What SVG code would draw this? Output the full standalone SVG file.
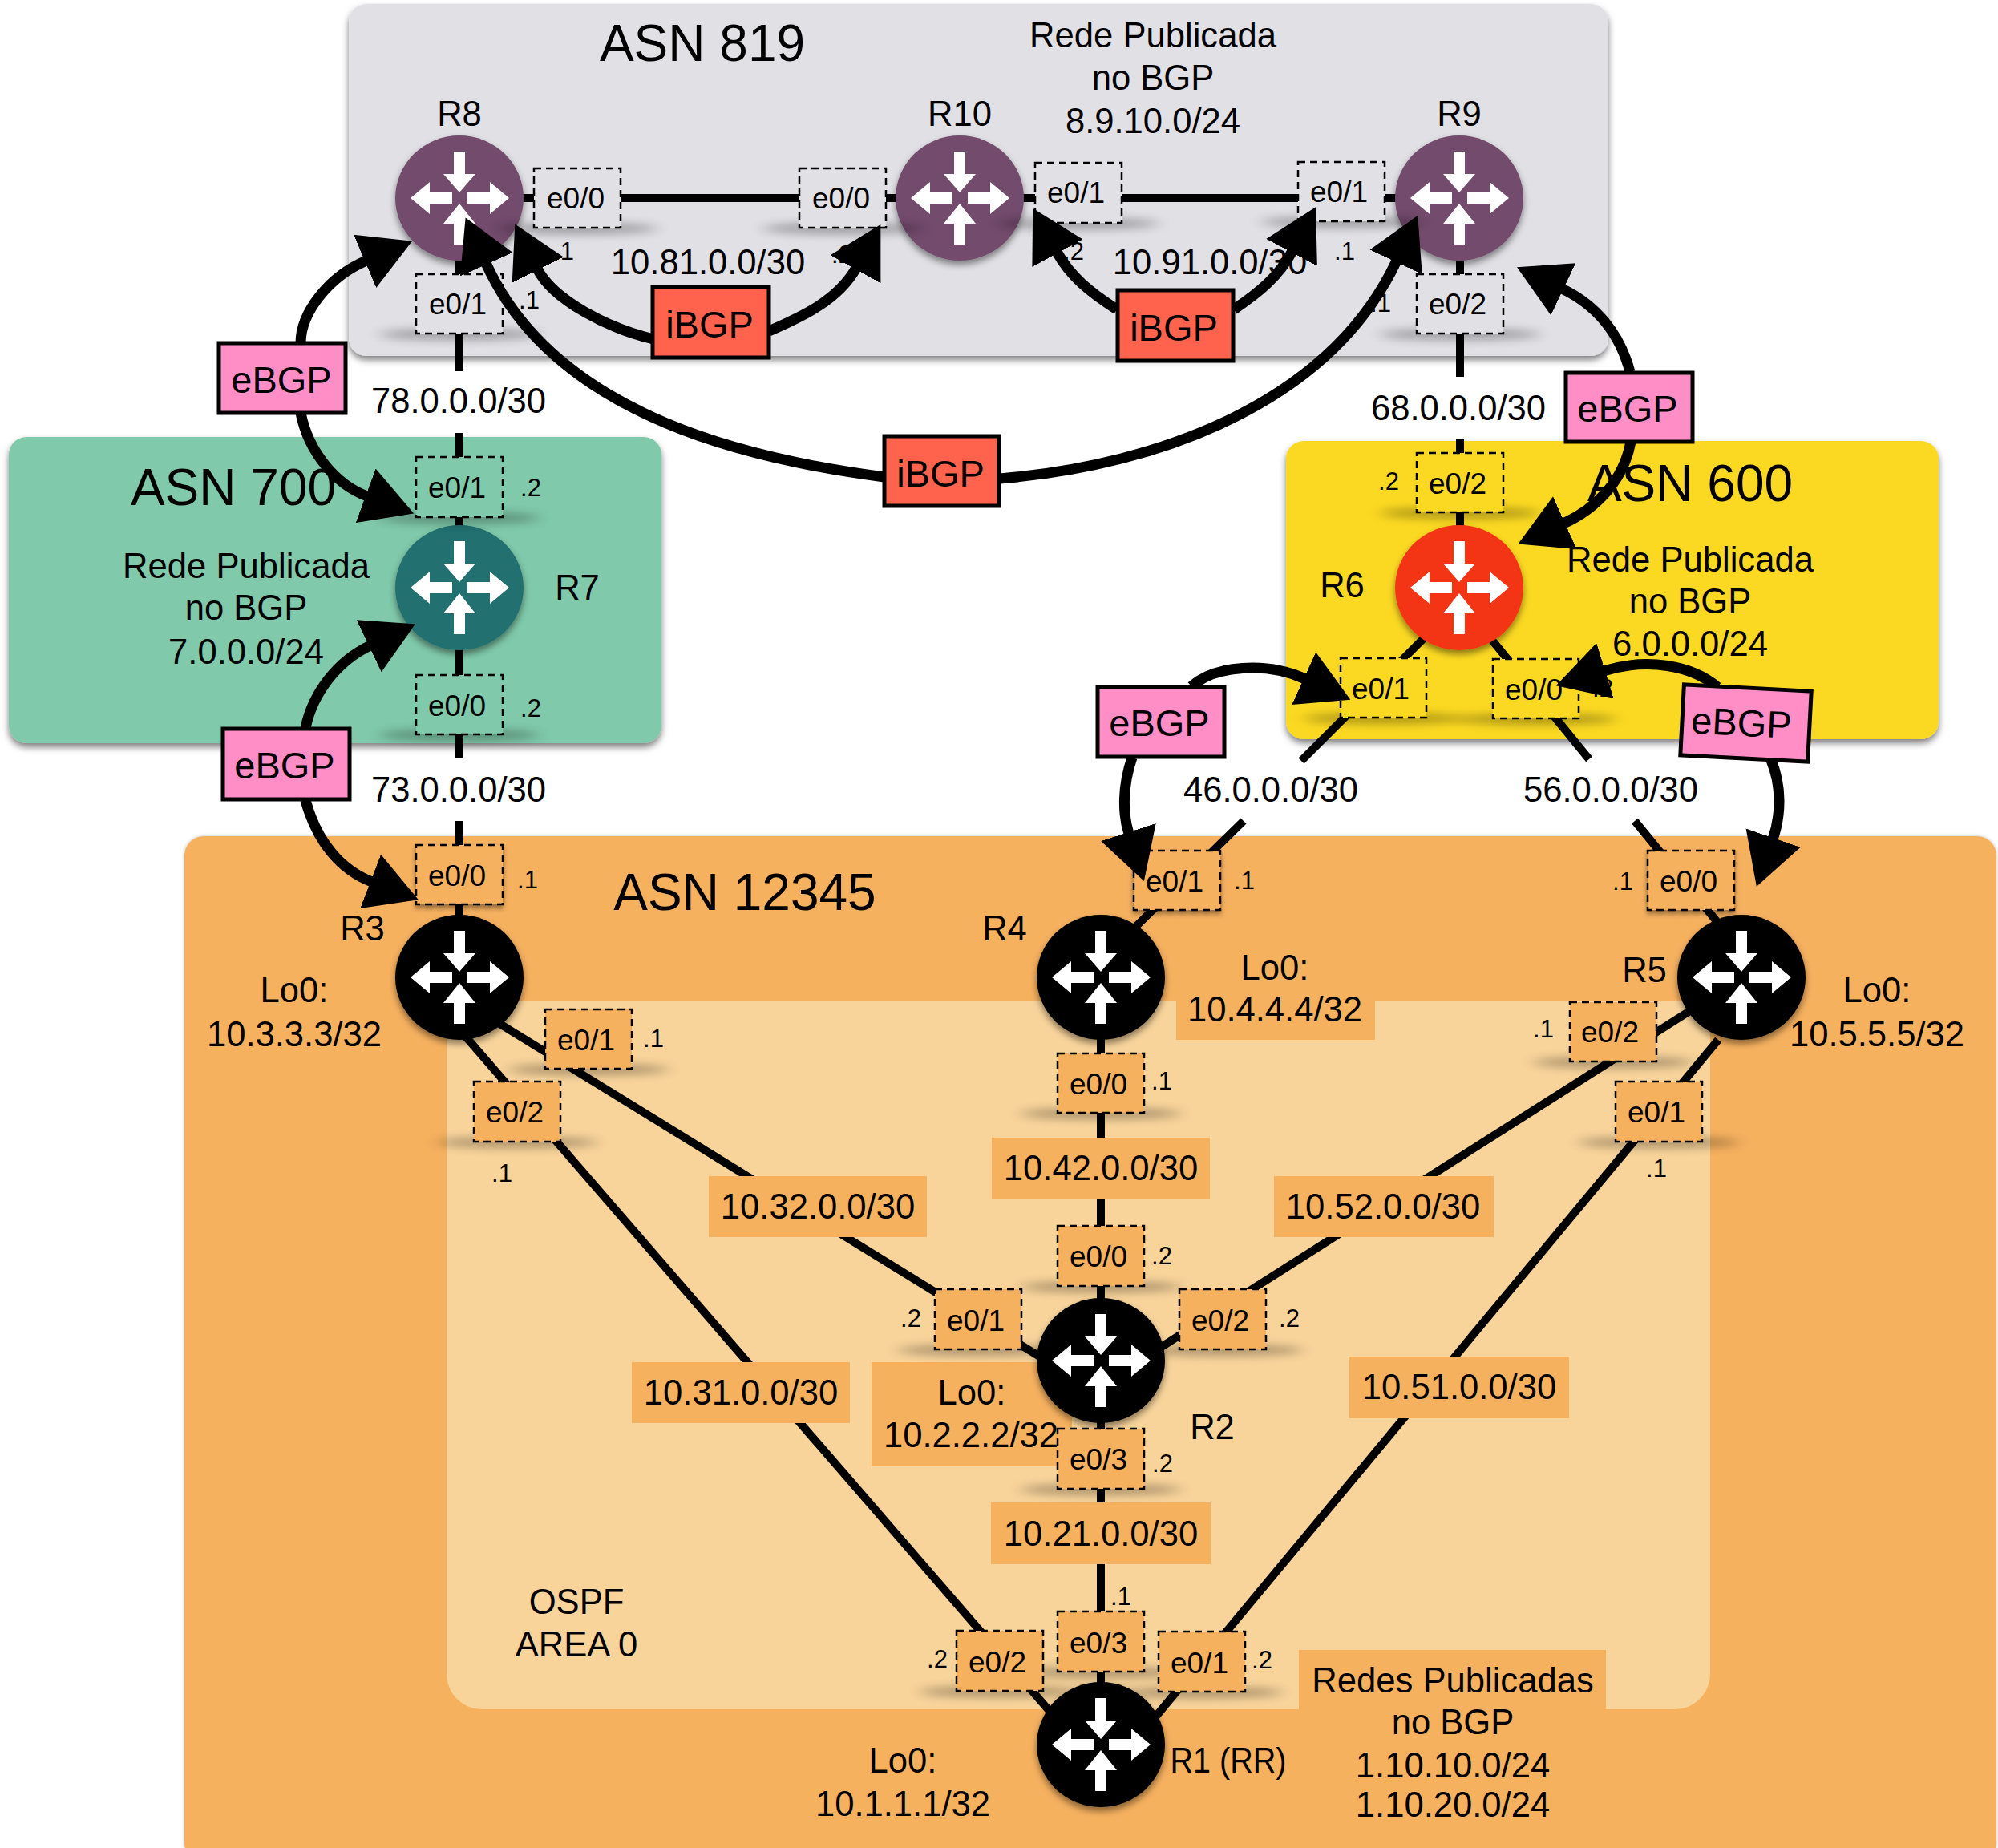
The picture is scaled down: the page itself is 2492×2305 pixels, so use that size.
<svg xmlns="http://www.w3.org/2000/svg" width="2492" height="2305" viewBox="0 0 2492 2305">
<style>
text{font-family:"Liberation Sans",Arial,sans-serif;fill:#000;text-anchor:middle;font-size:43.6px}
.t{font-size:64px}
.p{font-size:37px}
.d{font-size:31px}
.b{font-size:47px}
.port{stroke:#000;stroke-width:2.5;stroke-dasharray:9 6}
.g{fill:#e1e0e5}.a7{fill:#80c9aa}.y{fill:#fbd923}.o{fill:#f6b15f}.w{fill:#f8d49b}
.ln{stroke:#000;stroke-width:10;fill:none}
.arc{stroke:#000;stroke-width:13;fill:none;marker-end:url(#ah)}
.ib{fill:#ff634d;stroke:#000;stroke-width:5}
.eb{fill:#ff8ec7;stroke:#000;stroke-width:5}
.sh{fill:#000;opacity:.3;filter:url(#blur)}
.r{filter:url(#rs)}
</style>
<defs>
<filter id="ps" x="-5%" y="-5%" width="110%" height="112%"><feDropShadow dx="0" dy="5" stdDeviation="4" flood-color="#000" flood-opacity=".5"/></filter>
<filter id="ps2" x="-5%" y="-5%" width="110%" height="110%"><feDropShadow dx="0" dy="0" stdDeviation="2" flood-color="#000" flood-opacity=".25"/></filter>
<filter id="rs" x="-20%" y="-20%" width="140%" height="140%"><feDropShadow dx="0" dy="5" stdDeviation="4" flood-color="#000" flood-opacity=".45"/></filter>
<filter id="bs" x="-20%" y="-20%" width="140%" height="140%"><feDropShadow dx="0" dy="4" stdDeviation="3" flood-color="#000" flood-opacity=".4"/></filter>
<filter id="blur" x="-40%" y="-300%" width="180%" height="700%"><feGaussianBlur stdDeviation="10 6"/></filter>
<marker id="ah" markerUnits="userSpaceOnUse" markerWidth="66" markerHeight="74" refX="2" refY="37" orient="auto"><path d="M0,1 L64,37 L0,73 Z" fill="#000"/></marker>
<g id="glyph" fill="#fff">
<path d="M-7,-58 H7 V-30 H20 L0,-7 L-20,-30 H-7 Z"/>
<path d="M-7,58 H7 V32 H20 L0,7 L-20,32 H-7 Z"/>
<path d="M-9,-7 V7 H-37 V20 L-61,0 L-37,-20 V-7 Z"/>
<path d="M10,-7 V7 H38 V20 L62,0 L38,-20 V-7 Z"/>
</g>
</defs>

<g id="panels">
<rect id="asn12345" class="o" x="230" y="1043" width="2260" height="1280" rx="24" filter="url(#ps2)"/>
<rect id="ospf" class="w" x="557" y="1248" width="1576" height="884" rx="44"/>
<rect id="asn819" class="g" x="435" y="5" width="1571" height="439" rx="22" filter="url(#ps)"/>
<rect id="asn700" class="a7" x="11" y="545" width="814" height="382" rx="22" filter="url(#ps)"/>
<rect id="asn600" class="y" x="1604" y="550" width="814" height="372" rx="22" filter="url(#ps)"/>
</g>

<g id="connectors">
<path class="ln" d="M573,247 H1821"/>
<path class="ln" d="M573,247 V463 M573,540 V946 M573,1024 V1219"/>
<path class="ln" d="M1821,247 V470 M1821,548 V733"/>
<path class="ln" d="M1800,772 L1623,949 M1551,1024 L1400,1172"/>
<path class="ln" d="M1850,785 L1982,947 M2039,1024 L2150,1160"/>
<path class="ln" d="M573,1246 L1300,1694"/>
<path class="ln" d="M2172,1220 L1373,1728"/>
<path class="ln" d="M573,1284 L1340,2170"/>
<path class="ln" d="M2143,1297 L1420,2167"/>
<path class="ln" d="M1373,1219 V2177"/>
</g>

<g id="label-backs">
<rect class="o" x="884" y="1467" width="272" height="76"/>
<rect class="o" x="1237" y="1419" width="272" height="77"/>
<rect class="o" x="1589" y="1467" width="274" height="76"/>
<rect class="o" x="788" y="1699" width="272" height="76"/>
<rect class="o" x="1683" y="1692" width="274" height="77"/>
<rect class="o" x="1236" y="1874" width="274" height="77"/>
<rect class="o" x="1087" y="1699" width="250" height="130"/>
<rect class="o" x="1620" y="2058" width="383" height="80"/>
<rect class="o" x="1467" y="1245" width="248" height="52"/>
</g>

<g id="labels">
<text class="t" x="876" y="76">ASN 819</text>
<text class="t" x="291" y="630">ASN 700</text>
<text class="t" x="2108" y="625">ASN 600</text>
<text class="t" x="929" y="1135">ASN 12345</text>
<text x="1438" y="59">Rede Publicada</text><text x="1438" y="112">no BGP</text><text x="1438" y="166">8.9.10.0/24</text>
<text x="307" y="721">Rede Publicada</text><text x="307" y="773">no BGP</text><text x="307" y="828">7.0.0.0/24</text>
<text x="2108" y="713">Rede Publicada</text><text x="2108" y="765">no BGP</text><text x="2108" y="818">6.0.0.0/24</text>
<text x="1812" y="2111">Redes Publicadas</text><text x="1812" y="2163">no BGP</text><text x="1812" y="2217">1.10.10.0/24</text><text x="1812" y="2266">1.10.20.0/24</text>
<text x="573" y="157">R8</text><text x="1197" y="157">R10</text><text x="1820" y="157">R9</text>
<text x="720" y="748">R7</text><text x="1674" y="745">R6</text><text x="452" y="1173">R3</text><text x="1253" y="1173">R4</text><text x="2051" y="1225">R5</text><text x="1512" y="1795">R2</text><text x="1532" y="2211" textLength="145" lengthAdjust="spacingAndGlyphs">R1 (RR)</text>
<text x="883" y="342">10.81.0.0/30</text><text x="1509" y="342">10.91.0.0/30</text>
<text x="572" y="515">78.0.0.0/30</text><text x="1819" y="524">68.0.0.0/30</text><text x="572" y="1000">73.0.0.0/30</text>
<text x="1585" y="1000">46.0.0.0/30</text><text x="2009" y="1000">56.0.0.0/30</text>
<text x="1020" y="1520">10.32.0.0/30</text><text x="1373" y="1472">10.42.0.0/30</text><text x="1725" y="1520">10.52.0.0/30</text>
<text x="924" y="1752">10.31.0.0/30</text><text x="1820" y="1745">10.51.0.0/30</text><text x="1373" y="1928">10.21.0.0/30</text>
<text x="367" y="1250">Lo0:</text><text x="367" y="1305">10.3.3.3/32</text>
<text x="1590" y="1222">Lo0:</text><text x="1590" y="1274">10.4.4.4/32</text>
<text x="2341" y="1250">Lo0:</text><text x="2341" y="1305">10.5.5.5/32</text>
<text x="1212" y="1752">Lo0:</text><text x="1211" y="1805">10.2.2.2/32</text>
<text x="1126" y="2211">Lo0:</text><text x="1126" y="2265">10.1.1.1/32</text>
<text x="719" y="2013">OSPF</text><text x="719" y="2066">AREA 0</text>
<g class="dots">
<text class="d" x="703" y="324">.1</text><text class="d" x="660" y="385">.1</text><text class="d" x="1050" y="328">.2</text><text class="d" x="1339" y="324">.2</text><text class="d" x="1677" y="324">.1</text><text class="d" x="1722" y="389">.1</text>
<text class="d" x="662" y="619">.2</text><text class="d" x="662" y="894">.2</text><text class="d" x="658" y="1108">.1</text>
<text class="d" x="1732" y="611">.2</text><text class="d" x="1999" y="869">.2</text><text class="d" x="1552" y="1109">.1</text><text class="d" x="2024" y="1110">.1</text>
<text class="d" x="815" y="1306">.1</text><text class="d" x="626" y="1474">.1</text><text class="d" x="1449" y="1359">.1</text><text class="d" x="1925" y="1294">.1</text><text class="d" x="2066" y="1468">.1</text>
<text class="d" x="1449" y="1577">.2</text><text class="d" x="1136" y="1655">.2</text><text class="d" x="1608" y="1655">.2</text><text class="d" x="1450" y="1836">.2</text><text class="d" x="1398" y="2002">.1</text><text class="d" x="1169" y="2080">.2</text><text class="d" x="1574" y="2081">.2</text>
</g>
</g>

<g id="R8"><ellipse class="r" cx="573" cy="247" rx="80" ry="78" fill="#734b6d"/><use href="#glyph" x="573" y="247"/></g>
<g id="R10"><ellipse class="r" cx="1197" cy="247" rx="80" ry="78" fill="#734b6d"/><use href="#glyph" x="1197" y="247"/></g>
<g id="R9"><ellipse class="r" cx="1820" cy="247" rx="80" ry="78" fill="#734b6d"/><use href="#glyph" x="1820" y="247"/></g>
<g id="R7"><ellipse class="r" cx="573" cy="733" rx="80" ry="78" fill="#21706f"/><use href="#glyph" x="573" y="733"/></g>
<g id="R6"><ellipse class="r" cx="1820" cy="733" rx="80" ry="78" fill="#f33612"/><use href="#glyph" x="1820" y="733"/></g>
<g id="R3"><ellipse class="r" cx="573" cy="1219" rx="80" ry="78" fill="#000"/><use href="#glyph" x="573" y="1219"/></g>
<g id="R4"><ellipse class="r" cx="1373" cy="1219" rx="80" ry="78" fill="#000"/><use href="#glyph" x="1373" y="1219"/></g>
<g id="R5"><ellipse class="r" cx="2172" cy="1219" rx="80" ry="78" fill="#000"/><use href="#glyph" x="2172" y="1219"/></g>
<g id="R2"><ellipse class="r" cx="1373" cy="1697" rx="80" ry="78" fill="#000"/><use href="#glyph" x="1373" y="1697"/></g>
<g id="R1"><ellipse class="r" cx="1373" cy="2176" rx="80" ry="78" fill="#000"/><use href="#glyph" x="1373" y="2176"/></g>

<g id="ports">
<g id="p-r8-e00"><ellipse class="sh" cx="720" cy="285" rx="100" ry="7"/><rect class="port g" x="666" y="210" width="108" height="74"/><text class="p" x="718" y="260">e0/0</text></g>
<g id="p-r10-e00"><ellipse class="sh" cx="1051" cy="285" rx="100" ry="7"/><rect class="port g" x="997" y="210" width="108" height="74"/><text class="p" x="1049" y="260">e0/0</text></g>
<g id="p-r8-e01"><ellipse class="sh" cx="573" cy="417" rx="100" ry="7"/><rect class="port g" x="519" y="342" width="108" height="74"/><text class="p" x="571" y="392">e0/1</text></g>
<g id="p-r10-e01"><ellipse class="sh" cx="1345" cy="279" rx="100" ry="7"/><rect class="port g" x="1291" y="203" width="108" height="75"/><text class="p" x="1342" y="253">e0/1</text></g>
<g id="p-r9-e01"><ellipse class="sh" cx="1673" cy="277" rx="100" ry="7"/><rect class="port g" x="1619" y="202" width="108" height="74"/><text class="p" x="1670" y="252">e0/1</text></g>
<g id="p-r9-e02"><ellipse class="sh" cx="1821" cy="417" rx="100" ry="7"/><rect class="port g" x="1767" y="342" width="108" height="74"/><text class="p" x="1818" y="392">e0/2</text></g>
<g id="p-r7-e01"><ellipse class="sh" cx="573" cy="646" rx="100" ry="7"/><rect class="port a7" x="519" y="570" width="108" height="75"/><text class="p" x="570" y="621">e0/1</text></g>
<g id="p-r7-e00"><ellipse class="sh" cx="573" cy="917" rx="100" ry="7"/><rect class="port a7" x="519" y="842" width="108" height="74"/><text class="p" x="570" y="893">e0/0</text></g>
<g id="p-r6-e02"><ellipse class="sh" cx="1821" cy="640" rx="100" ry="7"/><rect class="port y" x="1767" y="565" width="108" height="74"/><text class="p" x="1818" y="616">e0/2</text></g>
<g id="p-r6-e01"><ellipse class="sh" cx="1726" cy="896" rx="100" ry="7"/><rect class="port y" x="1672" y="821" width="107" height="74"/><text class="p" x="1722" y="872">e0/1</text></g>
<g id="p-r6-e00"><ellipse class="sh" cx="1916" cy="897" rx="100" ry="7"/><rect class="port y" x="1862" y="822" width="107" height="74"/><text class="p" x="1913" y="873">e0/0</text></g>
<g id="p-r3-e00"><rect class="port o" filter="url(#bs)" x="519" y="1054" width="108" height="74"/><text class="p" x="570" y="1105">e0/0</text></g>
<g id="p-r4-e01"><rect class="port o" filter="url(#bs)" x="1414" y="1061" width="108" height="74"/><text class="p" x="1465" y="1112">e0/1</text></g>
<g id="p-r5-e00"><rect class="port o" filter="url(#bs)" x="2055" y="1061" width="108" height="74"/><text class="p" x="2106" y="1112">e0/0</text></g>
<g id="p-r3-e01"><ellipse class="sh" cx="734" cy="1334" rx="100" ry="7"/><rect class="port o" x="680" y="1259" width="108" height="74"/><text class="p" x="731" y="1310">e0/1</text></g>
<g id="p-r3-e02"><ellipse class="sh" cx="645" cy="1425" rx="100" ry="7"/><rect class="port o" x="591" y="1349" width="108" height="75"/><text class="p" x="642" y="1400">e0/2</text></g>
<g id="p-r4-e00"><ellipse class="sh" cx="1373" cy="1389" rx="100" ry="7"/><rect class="port o" x="1319" y="1314" width="108" height="74"/><text class="p" x="1370" y="1365">e0/0</text></g>
<g id="p-r5-e02"><ellipse class="sh" cx="2012" cy="1325" rx="100" ry="7"/><rect class="port o" x="1958" y="1250" width="108" height="74"/><text class="p" x="2008" y="1300">e0/2</text></g>
<g id="p-r5-e01"><ellipse class="sh" cx="2069" cy="1425" rx="100" ry="7"/><rect class="port o" x="2015" y="1349" width="108" height="75"/><text class="p" x="2066" y="1400">e0/1</text></g>
<g id="p-r2-e00"><ellipse class="sh" cx="1373" cy="1605" rx="100" ry="7"/><rect class="port o" x="1319" y="1529" width="108" height="75"/><text class="p" x="1370" y="1580">e0/0</text></g>
<g id="p-r2-e01"><ellipse class="sh" cx="1220" cy="1684" rx="100" ry="7"/><rect class="port o" x="1166" y="1608" width="108" height="75"/><text class="p" x="1217" y="1660">e0/1</text></g>
<g id="p-r2-e02"><ellipse class="sh" cx="1525" cy="1684" rx="100" ry="7"/><rect class="port o" x="1471" y="1608" width="108" height="75"/><text class="p" x="1522" y="1660">e0/2</text></g>
<g id="p-r2-e03"><ellipse class="sh" cx="1373" cy="1858" rx="100" ry="7"/><rect class="port o" x="1319" y="1782" width="108" height="75"/><text class="p" x="1370" y="1833">e0/3</text></g>
<g id="p-r1-e03"><ellipse class="sh" cx="1373" cy="2086" rx="100" ry="7"/><rect class="port o" x="1319" y="2010" width="108" height="75"/><text class="p" x="1370" y="2062">e0/3</text></g>
<g id="p-r1-e02"><ellipse class="sh" cx="1247" cy="2110" rx="100" ry="7"/><rect class="port o" x="1193" y="2034" width="108" height="75"/><text class="p" x="1244" y="2086">e0/2</text></g>
<g id="p-r1-e01"><ellipse class="sh" cx="1499" cy="2111" rx="100" ry="7"/><rect class="port o" x="1445" y="2035" width="108" height="75"/><text class="p" x="1496" y="2087">e0/1</text></g>
</g>

<g id="bgp-connectors">
<path class="arc" d="M815,423 C760,410 690,375 670,335"/>
<path class="arc" d="M959,413 C1000,395 1045,375 1068,334"/>
<path class="arc" d="M1103,595 C950,575 694,524 606,328"/>
<path class="arc" d="M1247,597 C1450,580 1660,500 1742,325"/>
<path class="arc" d="M1393,386 C1360,365 1335,345 1318,314"/>
<path class="arc" d="M1539,386 C1570,365 1595,345 1612,313"/>
<path class="arc" d="M375,428 C375,390 410,345 457,325"/>
<path class="arc" d="M375,515 C385,565 420,605 458,619"/>
<path class="arc" d="M381,908 C390,865 420,825 462,805"/>
<path class="arc" d="M381,998 C395,1050 425,1085 464,1100"/>
<path class="arc" d="M2033,464 C2020,415 1990,380 1948,360"/>
<path class="arc" d="M2034,551 C2025,600 1990,635 1950,653"/>
<path class="arc" d="M1486,856 C1515,830 1580,825 1628,847"/>
<path class="arc" d="M1412,945 C1400,980 1400,1015 1408,1040"/>
<path class="arc" d="M2142,857 C2110,830 2055,820 2000,837"/>
<path class="arc" d="M2209,948 C2222,980 2222,1015 2211,1047"/>
</g>

<g id="ibgp-1"><rect class="ib" x="814" y="358" width="145" height="88"/><text class="b" x="885" y="421">iBGP</text></g>
<g id="ibgp-2"><rect class="ib" x="1394" y="362" width="144" height="88"/><text class="b" x="1464" y="425">iBGP</text></g>
<g id="ibgp-3"><rect class="ib" x="1103" y="544" width="143" height="87"/><text class="b" x="1173" y="607">iBGP</text></g>
<g id="ebgp-1"><rect class="eb" x="273" y="428" width="158" height="87"/><text class="b" x="351" y="490">eBGP</text></g>
<g id="ebgp-2"><rect class="eb" x="278" y="909" width="158" height="88"/><text class="b" x="355" y="971">eBGP</text></g>
<g id="ebgp-3"><rect class="eb" x="1953" y="465" width="158" height="86"/><text class="b" x="2030" y="526">eBGP</text></g>
<g id="ebgp-4"><rect class="eb" x="1369" y="857" width="158" height="87"/><text class="b" x="1446" y="918">eBGP</text></g>
<g id="ebgp-5" transform="rotate(3 2177 902)"><rect class="eb" x="2098" y="858" width="159" height="88"/><text class="b" x="2172" y="918">eBGP</text></g>
</svg>
